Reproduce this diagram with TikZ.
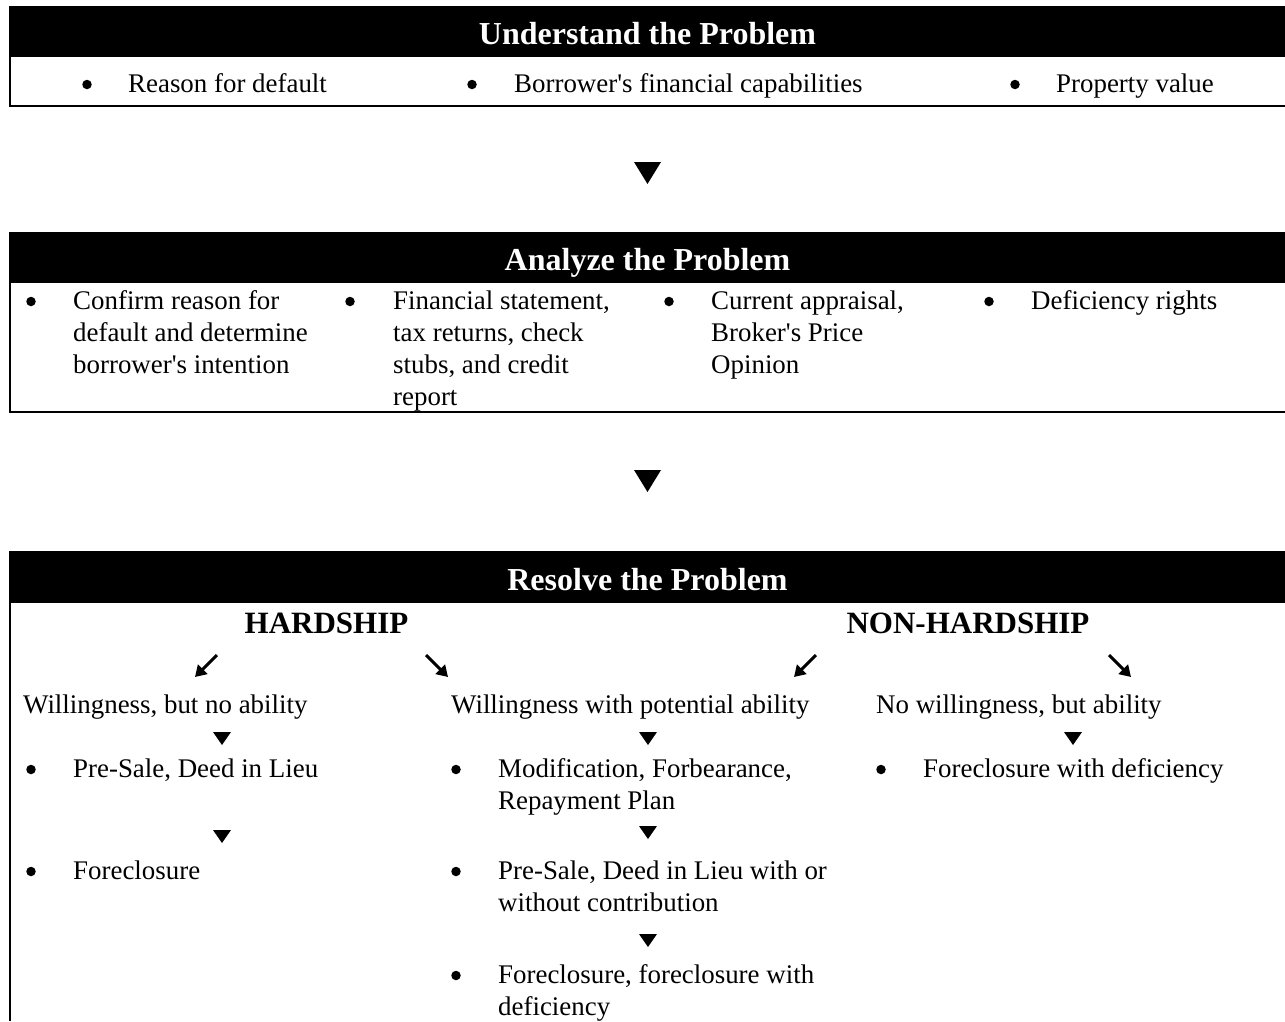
\documentclass[tikz,border=0pt]{standalone}
\usepackage{fontspec}
\setmainfont{Liberation Serif}[Ligatures=TeXOff]
\usetikzlibrary{arrows.meta}
\begin{document}
\begin{tikzpicture}[x=1pt,y=-1pt,
  txt/.style={font=\fontsize{26.9}{32}\selectfont, inner sep=0pt, anchor=base west},
  para/.style={txt, text width=430pt, align=flush left},
  bul/.style={circle, fill=black, inner sep=0pt, minimum size=9.5pt, yshift=7.5pt},
  ttl/.style={font=\fontsize{32}{38}\selectfont\bfseries, text=white, inner sep=0pt, anchor=base},
  hd/.style={font=\fontsize{31}{38}\selectfont\bfseries, inner sep=0pt, anchor=base},
  band/.style={fill=black, draw=none, inner sep=0pt, anchor=north west, minimum width=1276pt},
  frame/.style={line width=2.4pt},
  sarrow/.style={line width=3pt, -{Triangle[length=11pt,width=13pt]}},
  bigtri/.pic={\fill (-13.5,-11) -- (13.5,-11) -- (0,11) -- cycle;},
  smalltri/.pic={\fill (-9,-6.5) -- (9,-6.5) -- (0,6.5) -- cycle;}
]
\useasboundingbox (0,0) rectangle (1285,1021);

% ---------- Box 1 ----------
\node[band, minimum height=51pt] (band1) at (9,6) {};
\node[ttl] (t1) at (647.5,44) {Understand the Problem};
\draw[frame] (10,57) -- (10,106) -- (1285,106);
\node[bul] (u1b) at (87,92) {};
\node[txt] (u1) at (128,92) {Reason for default};
\node[bul] (u2b) at (472,92) {};
\node[txt] (u2) at (514,92) {Borrower's financial capabilities};
\node[bul] (u3b) at (1015,92) {};
\node[txt] (u3) at (1056,92) {Property value};

\pic (a1) at (647.5,173) {bigtri};

% ---------- Box 2 ----------
\node[band, minimum height=51pt] (band2) at (9,232) {};
\node[ttl] (t2) at (647.5,270) {Analyze the Problem};
\draw[frame] (10,283) -- (10,412) -- (1285,412);
\node[bul] (c1b) at (31,309) {};
\node[para] (c1) at (73,309) {Confirm reason for\\default and determine\\borrower's intention};
\node[bul] (c2b) at (350,309) {};
\node[para] (c2) at (393,309) {Financial statement,\\tax returns, check\\stubs, and credit\\report};
\node[bul] (c3b) at (669,309) {};
\node[para] (c3) at (711,309) {Current appraisal,\\Broker's Price\\Opinion};
\node[bul] (c4b) at (989,309) {};
\node[txt] (c4) at (1031,309) {Deficiency rights};

\pic (a2) at (647.5,481) {bigtri};

% ---------- Box 3 ----------
\node[band, minimum height=52pt] (band3) at (9,551) {};
\node[ttl] (t3) at (647.5,590) {Resolve the Problem};
\draw[frame] (10,603) -- (10,1021);

\node[hd] (h1) at (326.5,633) {HARDSHIP};
\node[hd] (h2) at (968,633) {NON-HARDSHIP};

\coordinate (h1l) at (217,655); \coordinate (w1t) at (195,677);
\coordinate (h1r) at (426,655); \coordinate (w2t) at (448,677);
\coordinate (h2l) at (816,655); \coordinate (w3t) at (794,677);
\coordinate (h2r) at (1109,655); \coordinate (w4t) at (1131,677);
\draw[sarrow] (h1l) -- (w1t);
\draw[sarrow] (h1r) -- (w2t);
\draw[sarrow] (h2l) -- (w3t);
\draw[sarrow] (h2r) -- (w4t);

\node[txt] (w1) at (23,713) {Willingness, but no ability};
\node[txt] (w2) at (451,713) {Willingness with potential ability};
\node[txt] (w3) at (876,713) {No willingness, but ability};

\pic (s1) at (222,738.5) {smalltri};
\pic (s2) at (648,738.5) {smalltri};
\pic (s3) at (1073,738.5) {smalltri};

\node[bul] (r1b) at (31,777) {};
\node[txt] (r1) at (73,777) {Pre-Sale, Deed in Lieu};
\node[bul] (r2b) at (456,777) {};
\node[para] (r2) at (498,777) {Modification, Forbearance,\\Repayment Plan};
\node[bul] (r3b) at (881,777) {};
\node[txt] (r3) at (923,777) {Foreclosure with deficiency};

\pic (s4) at (222,836.5) {smalltri};
\pic (s5) at (648,832.5) {smalltri};

\node[bul] (q1b) at (31,879) {};
\node[txt] (q1) at (73,879) {Foreclosure};
\node[bul] (q2b) at (456,879) {};
\node[para] (q2) at (498,879) {Pre-Sale, Deed in Lieu with or\\without contribution};

\pic (s6) at (648,940.5) {smalltri};

\node[bul] (p2b) at (456,983) {};
\node[para] (p2) at (498,983) {Foreclosure, foreclosure with\\deficiency};
\end{tikzpicture}
\end{document}
